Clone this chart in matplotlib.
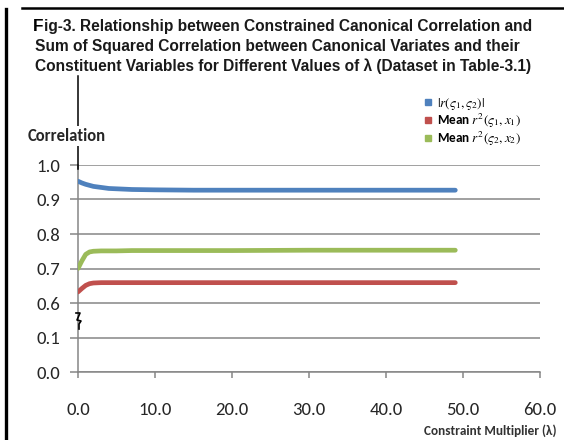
import numpy as np
import matplotlib
matplotlib.use("Agg")
import matplotlib.pyplot as plt
from matplotlib.lines import Line2D

# constraint multiplier values and the three correlation curves
lam = [0.0, 0.5, 1.0, 1.5, 2.0, 3.0, 4.0, 5.0, 7.0, 10.0, 15.0, 20.0, 30.0, 40.0, 49.0]
r_abs = [0.953, 0.948, 0.944, 0.941, 0.938, 0.935, 0.932, 0.931, 0.929, 0.928,
         0.927, 0.927, 0.927, 0.927, 0.927]
r2_x1 = [0.632, 0.642, 0.651, 0.656, 0.658, 0.659, 0.659, 0.659, 0.659, 0.659,
         0.659, 0.659, 0.659, 0.659, 0.659]
r2_x2 = [0.700, 0.722, 0.741, 0.748, 0.750, 0.751, 0.751, 0.751, 0.752, 0.752,
         0.752, 0.752, 0.753, 0.753, 0.753]

labels = [r'$|r(\varsigma_1,\varsigma_2)|$',
          r'Mean $r^2(\varsigma_1,x_1)$',
          r'Mean $r^2(\varsigma_2,x_2)$']
colors = ['#4F81BD', '#C0504D', '#9BBB59']
yticks = [0.0, 0.1, 0.6, 0.7, 0.8, 0.9, 1.0]
xticks = [0, 10, 20, 30, 40, 50, 60]

plt.rcParams['mathtext.fontset'] = 'stix'
grid_c = '#868686'
text_c = '#262626'
sans = ['Carlito', 'DejaVu Sans']
head = ['Liberation Sans', 'DejaVu Sans']


# broken y axis: 0-0.1 and 0.6-1.0 get the same spacing per 0.1
def fwd(v):
    v = np.asarray(v, dtype=float)
    return np.where(v <= 0.1, v / 0.1,
                    np.where(v <= 0.6, 1 + (v - 0.1) / 0.5, 2 + (v - 0.6) / 0.1))


def inv(f):
    f = np.asarray(f, dtype=float)
    return np.where(f <= 1, f * 0.1,
                    np.where(f <= 2, 0.1 + (f - 1) * 0.5, 0.6 + (f - 2) * 0.1))


W, H = 564, 440
fig = plt.figure(figsize=(W / 100, H / 100), dpi=100)
ax = fig.add_axes([78 / W, (H - 372) / H, 462 / W, 207 / H])
ax.set_yscale('function', functions=(fwd, inv))

for y, c in zip([r_abs, r2_x1, r2_x2], colors):
    ax.plot(lam, y, color=c, lw=3.4, solid_capstyle='round', zorder=3)

ax.set_xlim(0, 60)
ax.set_ylim(0, 1.0)
ax.set_xticks(xticks)
ax.set_xticklabels(['%.1f' % t for t in xticks])
ax.set_yticks(yticks)
ax.set_yticklabels(['%.1f' % t for t in yticks])
ax.yaxis.grid(True, color=grid_c, lw=1.1)
ax.set_axisbelow(True)
for s in ['top', 'right']:
    ax.spines[s].set_visible(False)
for s in ['left', 'bottom']:
    ax.spines[s].set_color(grid_c)
    ax.spines[s].set_linewidth(1.1)
ax.tick_params(axis='y', direction='out', length=6, width=1.1, color=grid_c, pad=7)
ax.tick_params(axis='x', direction='out', length=4.5, width=1.1, color=grid_c, pad=17)
for lab in ax.get_xticklabels() + ax.get_yticklabels():
    lab.set_fontfamily(sans)
    lab.set_fontsize(13.5)
    lab.set_color(text_c)

# legend with small square keys
handles = [Line2D([], [], marker='s', ls='', color=c, ms=5) for c in colors]
fig.legend(handles, labels, loc='upper left', bbox_to_anchor=(417 / W, 1 - 89 / H),
           frameon=False, handlelength=0.6, handletextpad=0.4, labelspacing=0.0,
           borderpad=0, prop={'family': sans, 'weight': 'bold', 'size': 9.5})


def px(x, y):
    return x / W, 1 - y / H


# outer frame lines
fig.add_artist(Line2D([px(6, 0)[0]] * 2, [px(0, 9)[1], 0], color='black', lw=2.4))
fig.add_artist(Line2D([px(22, 0)[0], 1], [px(0, 8)[1]] * 2, color='black', lw=1.8))

# axis line continued above the plot, with the axis name sitting over it
fig.add_artist(Line2D([px(78, 0)[0]] * 2, [px(0, 76)[1], px(0, 169)[1]], color='black', lw=1.1))
fig.text(*px(67, 136), 'Correlation', family=sans, weight='bold', size=12, color=text_c,
         ha='center', va='center', bbox=dict(fc='white', ec='none', pad=1.5))

# axis break mark between 0.1 and 0.6
zx = [76, 80, 77, 81, 79, 79]
zy = [313, 313, 320, 321, 324, 329]
fig.add_artist(Line2D([x / W for x in zx], [1 - y / H for y in zy], color='black', lw=1.2))

# title
tf = fig.text(*px(33, 31), 'F', family=head, weight='bold', size=12.4,
              color='black', va='baseline')
fig.add_artist(plt.Annotation('ig-3. Relationship between Constrained Canonical Correlation and',
                              xy=(1, 0), xycoords=tf, va='bottom', family=head,
                              weight='bold', size=11.2, color='#1a1a1a'))
fig.text(*px(35, 51), 'Sum of Squared Correlation between Canonical Variates and their',
         family=head, weight='bold', size=11.2, color='#1a1a1a', va='baseline')
fig.text(*px(35, 71), 'Constituent Variables for Different Values of λ (Dataset in Table-3.1)',
         family=head, weight='bold', size=11.2, color='#1a1a1a', va='baseline')

fig.text(*px(556, 431), 'Constraint Multiplier (λ)', family=sans, weight='bold',
         size=9.5, color='#333333', ha='right', va='center')

fig.savefig('out.png', dpi=100)
